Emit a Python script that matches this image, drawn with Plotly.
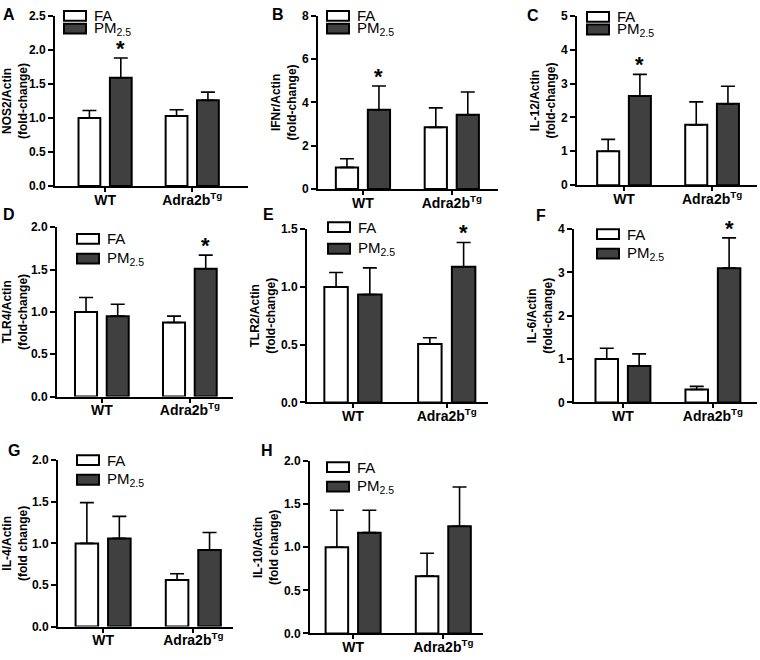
import plotly.graph_objects as go

# ---------------- data ----------------
categories = ["WT", "Adra2b<sup>Tg</sup>"]
group_names = ["FA", "PM<sub>2.5</sub>"]

nos2_fa = [1.00, 1.03]
nos2_fa_err = [0.11, 0.09]
nos2_pm = [1.59, 1.26]
nos2_pm_err = [0.29, 0.12]
nos2_sig = [True, False]

ifnr_fa = [1.00, 2.85]
ifnr_fa_err = [0.40, 0.90]
ifnr_pm = [3.66, 3.43]
ifnr_pm_err = [1.10, 1.05]
ifnr_sig = [True, False]

il12_fa = [1.00, 1.78]
il12_fa_err = [0.35, 0.68]
il12_pm = [2.63, 2.40]
il12_pm_err = [0.64, 0.52]
il12_sig = [True, False]

tlr4_fa = [1.00, 0.875]
tlr4_fa_err = [0.17, 0.075]
tlr4_pm = [0.95, 1.51]
tlr4_pm_err = [0.14, 0.16]
tlr4_sig = [False, True]

tlr2_fa = [1.00, 0.505]
tlr2_fa_err = [0.125, 0.055]
tlr2_pm = [0.935, 1.175]
tlr2_pm_err = [0.23, 0.21]
tlr2_sig = [False, True]

il6_fa = [1.00, 0.30]
il6_fa_err = [0.25, 0.07]
il6_pm = [0.84, 3.10]
il6_pm_err = [0.28, 0.70]
il6_sig = [False, True]

il4_fa = [1.00, 0.56]
il4_fa_err = [0.49, 0.075]
il4_pm = [1.06, 0.92]
il4_pm_err = [0.265, 0.21]
il4_sig = [False, False]

il10_fa = [1.00, 0.665]
il10_fa_err = [0.43, 0.265]
il10_pm = [1.17, 1.245]
il10_pm_err = [0.26, 0.455]
il10_sig = [False, False]

y_titles = ["NOS2/Actin<br>(fold-change)", "IFNr/Actin<br>(fold-change)",
            "IL-12/Actin<br>(fold-change)", "TLR4/Actin<br>(fold-change)",
            "TLR2/Actin<br>(fold-change)", "IL-6/Actin<br>(fold-change)",
            "IL-4/Actin<br>(fold change)", "IL-10/Actin<br>(fold change)"]
panel_letters = ["A", "B", "C", "D", "E", "F", "G", "H"]
y_tops = [2.5, 8, 5, 2.0, 1.5, 4, 2.0, 2.0]
y_dticks = [0.5, 2, 1, 0.5, 0.5, 1, 0.5, 0.5]
y_formats = [".1f", "d", "d", ".1f", ".1f", "d", ".1f", ".1f"]

panel_data = [
    (nos2_fa, nos2_fa_err, nos2_pm, nos2_pm_err, nos2_sig),
    (ifnr_fa, ifnr_fa_err, ifnr_pm, ifnr_pm_err, ifnr_sig),
    (il12_fa, il12_fa_err, il12_pm, il12_pm_err, il12_sig),
    (tlr4_fa, tlr4_fa_err, tlr4_pm, tlr4_pm_err, tlr4_sig),
    (tlr2_fa, tlr2_fa_err, tlr2_pm, tlr2_pm_err, tlr2_sig),
    (il6_fa, il6_fa_err, il6_pm, il6_pm_err, il6_sig),
    (il4_fa, il4_fa_err, il4_pm, il4_pm_err, il4_sig),
    (il10_fa, il10_fa_err, il10_pm, il10_pm_err, il10_sig),
]

# ---------------- layout geometry (pixels) ----------------
W, H = 760, 660
geom = [
    dict(dom=(55, 248, 9, 183), xr=(-0.575, 1.64), leg=(64, 4, 13), let=(9, 8)),
    dict(dom=(318, 498, 9, 186), xr=(-0.506, 1.52), leg=(327, 4, 13), let=(278, 8)),
    dict(dom=(577, 757, 9, 182), xr=(-0.534, 1.51), leg=(587, 5, 13), let=(533, 9)),
    dict(dom=(57, 233, 225, 398), xr=(-0.51, 1.49), leg=(77, 232, 20), let=(9, 212)),
    dict(dom=(307, 488, 227, 404), xr=(-0.49, 1.44), leg=(328, 220, 22), let=(268, 212)),
    dict(dom=(574, 757, 227, 404), xr=(-0.544, 1.49), leg=(597, 227, 20), let=(541, 213)),
    dict(dom=(58, 233, 463, 633), xr=(-0.50, 1.44), leg=(77, 458, 20), let=(14, 453)),
    dict(dom=(310, 483, 464, 640), xr=(-0.478, 1.44), leg=(327, 465, 20), let=(267, 453)),
]

FONT = "Liberation Sans, Arial, Helvetica, sans-serif"
DARK = "#404040"
PM_OFFSET = 0.18


def px(x):
    return x / W


def py(y):
    return 1 - y / H


xs = list(range(len(categories)))
fig = go.Figure()
shapes = []
annotations = []
layout_axes = {}

for k, (fa, fa_err, pm, pm_err, sig) in enumerate(panel_data):
    n = k + 1
    xa = "x" if n == 1 else f"x{n}"
    ya = "y" if n == 1 else f"y{n}"
    g = geom[k]
    x0, x1, yt, yb = g["dom"]

    err_style = dict(type="data", symmetric=False, arrayminus=[0] * len(xs),
                     color="black", thickness=1.6, width=7)
    fig.add_trace(go.Bar(
        x=xs, y=fa, name=group_names[0], showlegend=False,
        marker=dict(color="white", line=dict(color="black", width=2)),
        error_y=dict(array=fa_err, **err_style), xaxis=xa, yaxis=ya))
    fig.add_trace(go.Bar(
        x=xs, y=pm, name=group_names[1], showlegend=False,
        marker=dict(color=DARK, line=dict(color="black", width=2)),
        error_y=dict(array=pm_err, **err_style), xaxis=xa, yaxis=ya))

    layout_axes["xaxis" if n == 1 else f"xaxis{n}"] = dict(
        domain=[px(x0), px(x1)], anchor=ya, range=list(g["xr"]),
        tickmode="array", tickvals=xs, ticktext=categories,
        showline=True, linecolor="black", linewidth=2,
        ticks="outside", ticklen=4, tickwidth=2, tickcolor="black",
        ticklabelstandoff=-4,
        tickfont=dict(family=FONT, size=14, color="black", weight="bold"),
        showgrid=False, zeroline=False, fixedrange=True)
    layout_axes["yaxis" if n == 1 else f"yaxis{n}"] = dict(
        domain=[py(yb), py(yt)], anchor=xa, range=[0, y_tops[k]],
        dtick=y_dticks[k], tick0=0, tickformat=y_formats[k],
        showline=True, linecolor="black", linewidth=2,
        ticks="outside", ticklen=5, tickwidth=2, tickcolor="black",
        tickfont=dict(family=FONT, size=12, color="black", weight="bold"),
        showgrid=False, zeroline=False, fixedrange=True,
        title=dict(text=y_titles[k], standoff=3,
                   font=dict(family=FONT, size=12, color="black", weight="bold")))

    # significance stars
    for i, s in enumerate(sig):
        if s:
            annotations.append(dict(
                x=xs[i] + PM_OFFSET, y=pm[i] + pm_err[i], xref=xa, yref=ya,
                text="*", showarrow=False, yanchor="bottom", xanchor="center",
                yshift=-5,
                font=dict(family=FONT, size=22, color="black", weight="bold")))

    # panel letter
    lx, ly = g["let"]
    annotations.append(dict(
        x=px(lx), y=py(ly), xref="paper", yref="paper", text=panel_letters[k],
        showarrow=False, xanchor="center", yanchor="middle",
        font=dict(family=FONT, size=16, color="black", weight="bold")))

    # legend (drawn as boxes + labels)
    bx, by, step = g["leg"]
    for j, (name, fill) in enumerate(zip(group_names, ["white", DARK])):
        top = by + j * step
        shapes.append(dict(type="rect", xref="paper", yref="paper",
                           x0=px(bx), x1=px(bx + 22), y0=py(top + 10), y1=py(top),
                           fillcolor=fill, line=dict(color="black", width=2)))
        annotations.append(dict(
            x=px(bx + 28), y=py(top + 5), xref="paper", yref="paper",
            text=name, showarrow=False, xanchor="left", yanchor="middle",
            font=dict(family=FONT, size=15, color="black")))

fig.update_layout(
    width=W, height=H, margin=dict(l=0, r=0, t=0, b=0),
    paper_bgcolor="white", plot_bgcolor="white",
    barmode="group", bargap=0.28, bargroupgap=0.305,
    showlegend=False, shapes=shapes, annotations=annotations,
    font=dict(family=FONT, color="black"),
    **layout_axes)

fig.write_html("out.html", config={"displayModeBar": False},
               post_script="document.body.style.margin='0px';document.body.style.padding='0px';")
